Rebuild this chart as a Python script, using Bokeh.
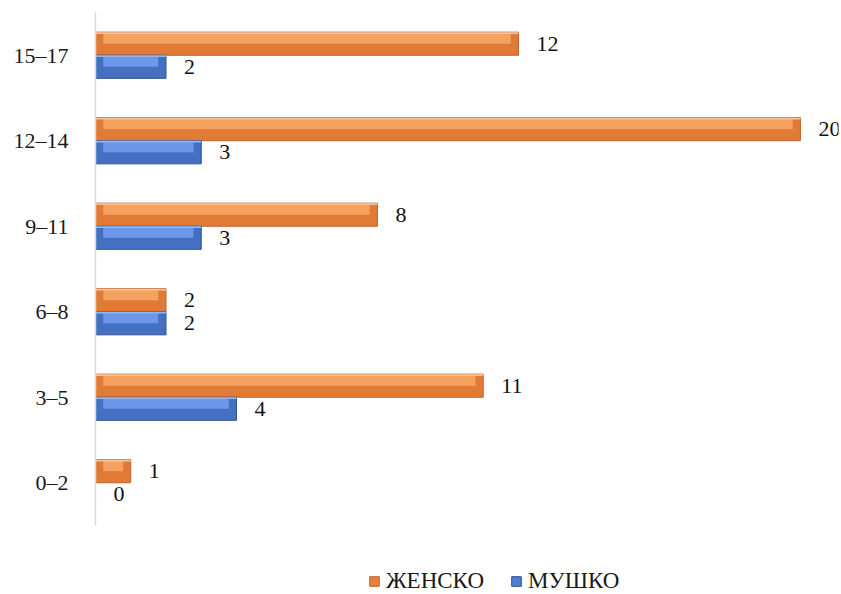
import numpy as np
from bokeh.plotting import figure
from bokeh.layouts import column
from bokeh.models import ColumnDataSource, Legend, LegendItem, FactorRange
from bokeh.transform import dodge
from bokeh.core.properties import value
from bokeh.embed import file_html
from bokeh.resources import INLINE

categories = ["0–2", "3–5", "6–8", "9–11", "12–14", "15–17"]
female = [1, 11, 2, 8, 20, 12]
male = [0, 4, 2, 3, 3, 2]
series_names = ["ЖЕНСКО", "МУШКО"]

FONT = "Liberation Serif"
H = 0.27
BEV = 0.22

def bevel_cols(vals):
    v = np.array(vals, dtype=float)
    left = np.minimum(BEV, v / 2)
    right = np.maximum(v - BEV, v / 2)
    return v, left, right

fv, fl, fr = bevel_cols(female)
mv, ml, mr = bevel_cols(male)
src = ColumnDataSource(dict(cat=categories, f=fv, fl=fl, fr=fr, m=mv, ml=ml, mr=mr,
                            flab=[str(x) for x in female], mlab=[str(x) for x in male]))

p = figure(width=840, height=540, y_range=FactorRange(factors=categories), x_range=(0, 21.08),
           output_backend="svg", toolbar_location=None,
           min_border_left=95, min_border_right=2, min_border_top=12, min_border_bottom=15)
p.outline_line_color = None
p.xgrid.visible = False
p.ygrid.visible = False
p.xaxis.visible = False
p.yaxis.axis_line_color = "#D9D9D9"
p.yaxis.axis_line_width = 1.5
p.yaxis.major_tick_line_color = None
p.yaxis.minor_tick_line_color = None
p.yaxis.major_label_text_font = FONT
p.yaxis.major_label_text_font_size = "22px"
p.yaxis.major_label_text_color = "#1a1a1a"
p.yaxis.major_label_standoff = 21

def draw(valcol, lcol, rcol, off, base, mid, hi, edge):
    p.hbar(y=dodge("cat", off, range=p.y_range), left=0, right=valcol, height=H,
           source=src, fill_color=base, line_color=edge, line_width=1)
    p.hbar(y=dodge("cat", off + H * 0.22, range=p.y_range), left=lcol, right=rcol, height=H * 0.44,
           source=src, fill_color=mid, line_color=None)
    p.hbar(y=dodge("cat", off + H * 0.46, range=p.y_range), left=0, right=valcol, height=H * 0.08,
           source=src, fill_color=hi, line_color=None)

draw("f", "fl", "fr", H / 2, "#E07A35", "#F5A260", "#F9C294", "#BF642A")
draw("m", "ml", "mr", -H / 2, "#4470C2", "#6D98EA", "#93B5F2", "#2F528F")

for valcol, labcol, off in (("f", "flab", H / 2), ("m", "mlab", -H / 2)):
    p.text(x=valcol, y=dodge("cat", off, range=p.y_range), text=labcol, source=src,
           x_offset=18, text_baseline="middle", text_align="left",
           text_font=value(FONT), text_font_size="22px", text_color="#111111")

# legend strip
lg = figure(width=840, height=54, output_backend="svg", toolbar_location=None,
            min_border=0, x_range=(0, 1), y_range=(0, 1))
lg.outline_line_color = None
lg.axis.visible = False
lg.grid.visible = False
off_canvas = dict(l=[-5], r=[-4], t=[-4], b=[-5])
r1 = lg.quad(left="l", right="r", top="t", bottom="b", source=ColumnDataSource(off_canvas),
             fill_color="#E8803A", line_color="#C0652A")
r2 = lg.quad(left="l", right="r", top="t", bottom="b", source=ColumnDataSource(off_canvas),
             fill_color="#4F7FD6", line_color="#2F528F")
legend = Legend(items=[LegendItem(label=series_names[0], renderers=[r1]),
                       LegendItem(label=series_names[1], renderers=[r2])],
                orientation="horizontal", location=(273, 0))
legend.label_text_font = FONT
legend.label_text_font_size = "23px"
legend.label_text_color = "#1a1a1a"
legend.glyph_width = 12
legend.glyph_height = 12
legend.label_height = 24
legend.spacing = 26
legend.padding = 0
legend.margin = 0
legend.label_standoff = 6
legend.border_line_color = None
legend.background_fill_alpha = 0
lg.add_layout(legend, "center")

layout = column(p, lg, spacing=0)
open("out.html", "w").write(file_html(layout, INLINE))
